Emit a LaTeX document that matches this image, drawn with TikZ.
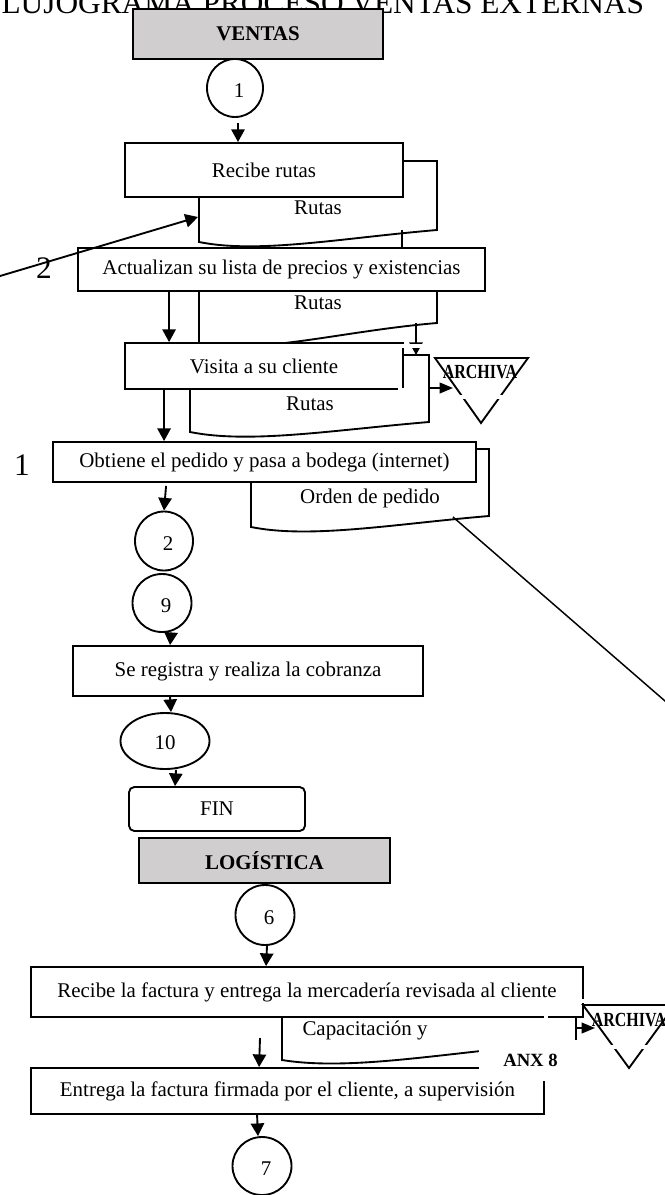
\documentclass[tikz,border=0pt]{standalone}
\usepackage{fontspec}
\usepackage{graphicx}
\setmainfont{Liberation Serif}
\usetikzlibrary{arrows.meta,shapes.geometric,calc}

\definecolor{hdrgray}{RGB}{208,206,206}
\newcommand\bodyfont{\fontsize{15.7pt}{18pt}\selectfont}
\newcommand\bigfont{\fontsize{23.5pt}{27pt}\selectfont}
% connector number, nudged right and down inside its circle
\newcommand\cnum[1]{\raisebox{-2.2pt}[\height][\depth]{\hspace{6pt}#1}}
\newcommand\archtext{\scalebox{0.8}[1]{\bfseries\fontsize{15pt}{18pt}\selectfont ARCHIVA}}
% document symbol: left, right, top, bottom-left, bottom-right
\newcommand\docsym[5]{%
  \draw[docline] (#1,#3) -- (#1,#4)
    .. controls ({#1+0.25*(#2-#1)},{#4+12}) and ({#1+0.6*(#2-#1)},{#5+8}) ..
    (#2,#5) -- (#2,#3) -- cycle;}

\begin{document}
\begin{tikzpicture}[x=0.75pt,y=-0.75pt,line width=1.4pt,
  box/.style={draw,fill=white,inner sep=0pt,font=\bodyfont},
  hdr/.style={draw,fill=hdrgray,inner sep=0pt,font=\bodyfont\bfseries},
  conn/.style={draw,ellipse,fill=white,inner sep=0pt,font=\bodyfont},
  docline/.style={draw,fill=white,line join=miter},
  doctext/.style={inner sep=0pt,font=\bodyfont},
  bignum/.style={inner sep=0pt,font=\bigfont},
  tri/.style={draw,line join=miter},
  arr/.style={-{Triangle[length=9.5pt,width=10pt]}},
  sarr/.style={-{Triangle[length=10pt,width=8pt]}},
  erase/.style={draw=white,line width=3pt}]

\useasboundingbox (0,0) rectangle (664,1195);

% title and header of the sales lane
\node[anchor=base east,inner sep=0pt,font=\bigfont] (title) at (645,14)
  {FLUJOGRAMA PROCESO VENTAS EXTERNAS};
\node[hdr,minimum width=187.5pt,minimum height=37.5pt] (ventas) at (258,34) {VENTAS};
\node[conn,minimum width=42pt,minimum height=43.5pt] (c1) at (235,88) {\cnum{1}};

% documents (drawn first, boxes overlap their tops)
\docsym{199}{437}{161}{242}{230}
\docsym{199}{437}{285}{343}{323}
\docsym{190}{429}{355}{432}{422}
\docsym{251}{489}{449}{527}{516}
\docsym{282}{576}{1010}{1060}{1042}

\node[doctext] (d1t) at (318,208) {Rutas};
\node[doctext] (d2t) at (318,303) {Rutas};
\node[doctext] (d3t) at (310,404) {Rutas};
\node[doctext] (d4t) at (370,498) {Orden de pedido};
\node[doctext] (d5t) at (365,1030) {Capacitación y};

% process boxes
\node[box,minimum width=208.5pt,minimum height=40.5pt] (b1) at (264,170) {Recibe rutas};
\node[box,minimum width=305.25pt,minimum height=32.25pt] (b2) at (281.5,269.5)
  {Actualizan su lista de precios y existencias};
\node[box,minimum width=208.5pt,minimum height=34.5pt] (b3) at (264,366) {Visita a su cliente};
\node[box,minimum width=317.25pt,minimum height=30pt] (b4) at (264.5,462)
  {Obtiene el pedido y pasa a bodega (internet)};
\node[box,minimum width=262.5pt,minimum height=37.5pt] (b5) at (248,671)
  {Se registra y realiza la cobranza};
\node[box,rounded corners=4pt,minimum width=132pt,minimum height=33pt] (fin) at (217,809) {FIN};

% connectors of the sales lane
\node[conn,minimum width=43.5pt,minimum height=44.25pt] (c2) at (164,541) {\cnum{2}};
\node[conn,minimum width=44.25pt,minimum height=43.5pt] (c9) at (162,603) {\cnum{9}};
\node[conn,minimum width=66.75pt,minimum height=42pt] (c10) at (165,741)
  {\raisebox{-1.5pt}[\height][\depth]{10}};

\node[bignum] (n2) at (44,268) {2};
\node[bignum] (n1) at (22,465) {1};

% file symbol of the sales lane
\coordinate (t1a) at (435,358);
\coordinate (t1b) at (528,358);
\coordinate (t1c) at (481,423);
\draw[tri] (t1a) -- (t1b) -- (t1c) -- cycle;
\node[inner sep=0pt] (t1txt) at (480,372) {\archtext};

% logistics lane
\node[hdr,minimum width=188.25pt,minimum height=33.75pt] (logis) at (264.5,860.5) {LOGÍSTICA};
\node[conn,minimum width=44.25pt,minimum height=45pt] (c6) at (265,915) {\cnum{6}};
\node[box,minimum width=414pt,minimum height=37.5pt] (b6) at (307,992)
  {Recibe la factura y entrega la mercadería revisada al cliente};
\node[box,minimum width=384.75pt,minimum height=34.5pt] (b7) at (287.5,1091)
  {Entrega la factura firmada por el cliente, a supervisión};
\node[fill=white,inner sep=0pt,minimum width=77.25pt,minimum height=30.75pt,
  font=\bfseries\fontsize{14pt}{16pt}\selectfont] (anx) at (530.5,1060.5) {ANX 8};
\node[conn,minimum width=44.25pt,minimum height=43.5pt] (c7) at (262,1166) {\cnum{7}};

\coordinate (t2a) at (583,1005);
\coordinate (t2b) at (675,1005);
\coordinate (t2c) at (629,1068);
\draw[tri] (t2a) -- (t2b) -- (t2c) -- cycle;
\node[inner sep=0pt] (t2txt) at (629,1020) {\archtext};

% flow lines
\coordinate (lin) at (-5,277.5);
\coordinate (d1in) at (198,217);
\coordinate (d1out) at (402,230);
\coordinate (d2out) at (416,323);
\coordinate (d3in) at (416,355);
\coordinate (d3out) at (429,388);
\coordinate (t1in) at (453,388);
\coordinate (d4out) at (453,517);
\coordinate (dfar) at (680,714);
\coordinate (free) at (260,1038);
\coordinate (d5out) at (576,1028);
\coordinate (t2in) at (595,1028);

\draw[arr] ($(c1.south)+(3,5)$) -- ($(c1.south |- b1.north)+(3,0)$);
\draw[arr] (lin) -- (d1in);
\draw (d1out) -- (d1out |- b2.north);
\draw[arr] ($(b2.south west)+(92,0)$) -- ($(b3.north west)+(45,0)$);
\draw[arr] (d2out) -- (d3in);
\draw[sarr] (d3out) -- (t1in);
\draw[arr] ($(b3.south west)+(40,0)$) -- ($(b4.north west)+(112,0)$);
\draw[arr] ($(b4.south west)+(114,3)$) -- (c2.north);
\draw[arr] ($(c9.south)+(9,0)$) -- ($(b5.north west)+(98,0)$);
\draw[arr] ($(b5.south west)+(98,0)$) -- ($(c10.north)+(6,0)$);
\draw[arr] ($(c10.south)+(11,0)$) -- ($(fin.north west)+(47,0)$);
\draw[line width=1.1pt] (d4out) -- (dfar);

\draw[arr] ($(c6.south)+(2,0)$) -- ($(b6.north west)+(236,0)$);
\draw[arr] (free) -- ($(b7.north west)+(229,0)$);
\draw[sarr] (d5out) -- (t2in);
\draw[arr] ($(b7.south west)+(227,0)$) -- ($(c7.north)+(-4,0)$);

% white breaks where the frames of the text boxes cross the outlines
\fill[white] (402,344.4) rectangle (432,348);
\fill[white] (397.5,388.2) rectangle (405,391);
\path[erase] (455,397) -- (508,397);
\path[erase] (605,1047) -- (655,1047);
\path[erase] (578,1001) -- (590,1001);
\path[erase] (545.5,1013) -- (545.5,1021);

\end{tikzpicture}
\end{document}
